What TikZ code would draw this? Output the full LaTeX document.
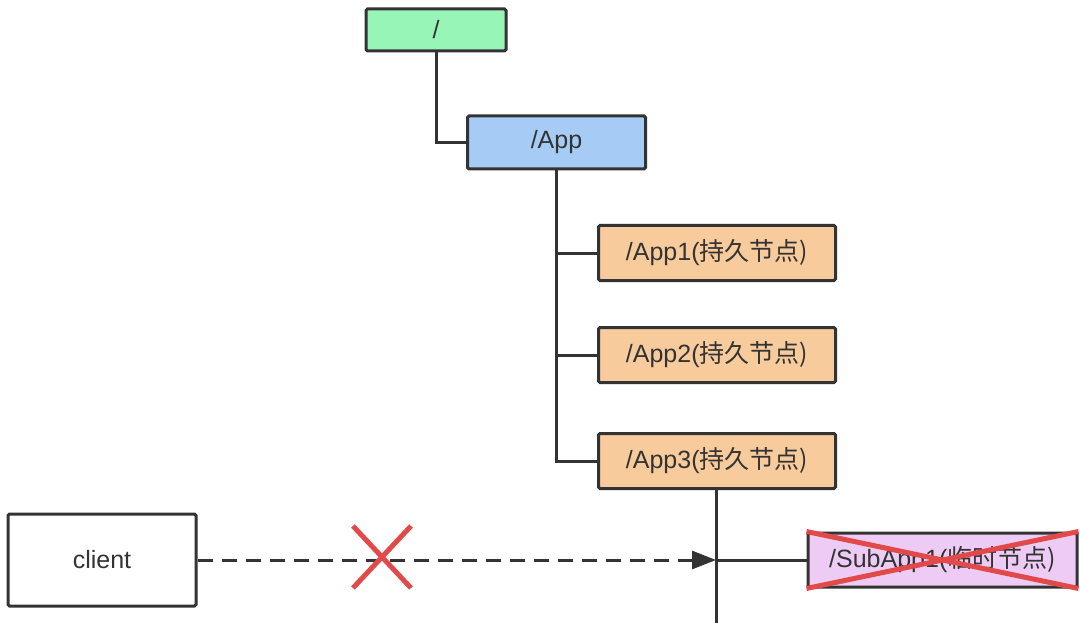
\documentclass[tikz,border=0pt]{standalone}
\usepackage{fontspec}
\setmainfont{Liberation Sans}
\newfontfamily\cjk{Noto Sans CJK SC}
\usetikzlibrary{arrows.meta,calc}
\definecolor{linec}{HTML}{333333}
\definecolor{rootc}{HTML}{98F5B8}
\definecolor{appc}{HTML}{A6CBF5}
\definecolor{permc}{HTML}{F8CB9C}
\definecolor{tempc}{HTML}{EDCBF5}
\definecolor{redx}{HTML}{E24A4A}
\tikzset{
  box/.style={draw=linec, line width=3pt, rounded corners=1.5pt, inner sep=0pt, font=\fontsize{25}{29}\selectfont, text=linec},
  conn/.style={draw=linec, line width=3pt},
  cross/.style={draw=redx, line width=5pt}
}
\begin{document}
\begin{tikzpicture}[x=1pt,y=-1pt]
\useasboundingbox (0,0) rectangle (1080,623);
\node[box, fill=rootc, minimum width=140pt, minimum height=42pt] (root) at (436,30) {/};
\node[box, fill=appc, minimum width=178pt, minimum height=53pt] (app) at (556.5,142.5) {/App};
\node[box, fill=permc, minimum width=237pt, minimum height=55pt] (app1) at (717,253) {/App1(\cjk 持久节点)};
\node[box, fill=permc, minimum width=237pt, minimum height=55pt] (app2) at (717,355) {/App2(\cjk 持久节点)};
\node[box, fill=permc, minimum width=237pt, minimum height=55pt] (app3) at (717,461) {/App3(\cjk 持久节点)};
\node[box, fill=white, minimum width=188pt, minimum height=92pt] (client) at (102,560) {client};
\node[box, fill=tempc, minimum width=269pt, minimum height=54pt] (sub) at (942.5,560) {/SubApp1(\cjk 临时节点)};
\coordinate (bend) at (436,142.5);
\coordinate (trunk) at (556,461);
\coordinate (bottom) at (716,623);
\coordinate (junc) at (716,560);
% tree connectors
\draw[conn] (root.south) -- (bend) -- (app.west);
\draw[conn] (app.south -| trunk) -- (trunk) -- (app3.west);
\draw[conn] (app1.west -| trunk) -- (app1.west);
\draw[conn] (app2.west -| trunk) -- (app2.west);
\draw[conn] (app3.south -| junc) -- (bottom);
\draw[conn] (junc) -- (sub.west);
% dashed request
\draw[conn, dash pattern=on 15pt off 9pt, -{Triangle[length=24pt,width=18pt]}] (client.east) -- (junc);
% red crosses
\coordinate (xc) at (382,557);
\draw[cross] ($(xc)+(-29,-31)$) -- ($(xc)+(29,31)$);
\draw[cross] ($(xc)+(29,-31)$) -- ($(xc)+(-29,31)$);
\draw[cross] (sub.north west) -- (sub.south east);
\draw[cross] (sub.south west) -- (sub.north east);
\end{tikzpicture}
\end{document}
